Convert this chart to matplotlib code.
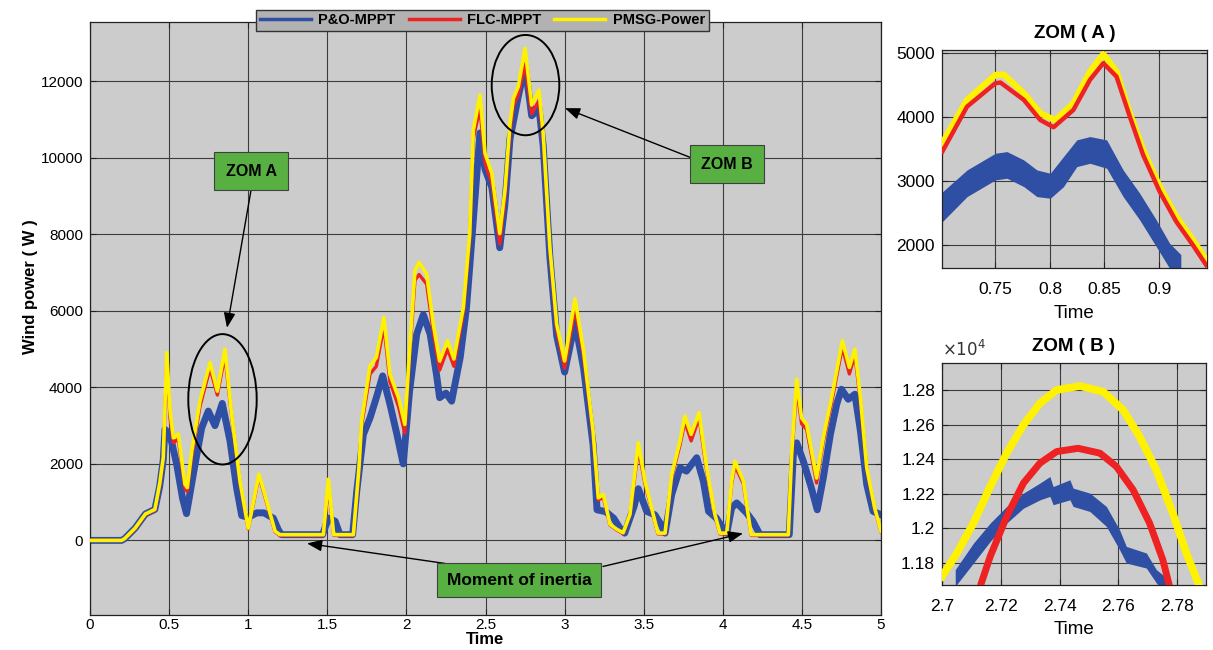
import numpy as np
import matplotlib
matplotlib.use('Agg')
import matplotlib.pyplot as plt
from matplotlib.patches import Ellipse
from matplotlib.ticker import FuncFormatter, FixedLocator

plt.rcParams['font.family'] = ['Liberation Sans', 'DejaVu Sans']

# ---------------- main chart data ----------------
t_ref = [0.00, 0.20, 0.22, 0.285, 0.35, 0.41, 0.44, 0.463, 0.485, 0.506, 0.527, 0.558, 0.60, 0.615,
         0.643, 0.695, 0.759, 0.805, 0.853, 0.895, 0.948, 1.00, 1.03, 1.068, 1.117, 1.17, 1.20,
         1.475, 1.507, 1.54, 1.665, 1.70, 1.717, 1.77, 1.81, 1.858, 1.896, 1.95, 1.99, 2.02, 2.054,
         2.08, 2.128, 2.17, 2.21, 2.26, 2.30, 2.36, 2.40, 2.423, 2.465, 2.497, 2.54, 2.59, 2.623,
         2.655, 2.676, 2.707, 2.75, 2.792, 2.838, 2.865, 2.907, 2.95, 3.0, 3.066, 3.12, 3.18, 3.213,
         3.245, 3.287, 3.33, 3.37, 3.413, 3.466, 3.508, 3.56, 3.59, 3.635, 3.677, 3.73, 3.76, 3.80,
         3.85, 3.898, 3.95, 3.982, 4.025, 4.056, 4.077, 4.13, 4.16, 4.18, 4.414, 4.435, 4.467, 4.498,
         4.53, 4.593, 4.635, 4.688, 4.72, 4.756, 4.80, 4.835, 4.87, 4.91, 4.96, 5.0]

pmsg_power = [0, 0, 50, 320, 690, 810, 1470, 2160, 4910, 3380, 2680, 2780, 1470, 1380,
              2330, 3640, 4650, 3900, 5000, 3300, 1550, 320, 940, 1730, 1020, 240, 150,
              150, 1600, 150, 150, 1900, 3120, 4560, 4780, 5830, 4340, 3730, 3030, 4950, 7050,
              7270, 6960, 5650, 4690, 5220, 4740, 6090, 8000, 10720, 11640, 10120, 9590, 8020, 9150,
              10900, 11550, 11860, 12860, 11380, 11770, 10630, 7660, 5650, 4690, 6310, 4950, 2860, 1110,
              1200, 420, 290, 200, 680, 2550, 1550, 680, 190, 190, 1720, 2600, 3250, 2770,
              3340, 1900, 680, 190, 190, 1550, 2070, 1550, 680, 150, 150, 2250, 4210, 3200,
              3030, 1630, 2680, 3730, 4430, 5220, 4520, 5000, 3730, 1900, 850, 240]

flc_mppt = [0, 0, 50, 300, 670, 790, 1420, 2100, 4700, 3200, 2550, 2650, 1350, 1280,
            2200, 3500, 4500, 3800, 4830, 3250, 1500, 300, 900, 1680, 980, 220, 130,
            130, 1450, 130, 130, 1800, 3000, 4350, 4550, 5600, 4150, 3500, 2800, 4800, 6800,
            6950, 6700, 5450, 4450, 5000, 4550, 5950, 7850, 10500, 11300, 9850, 9350, 7750, 8950,
            10700, 11350, 11650, 12450, 11150, 11500, 10450, 7550, 5500, 4500, 6050, 4800, 2750, 1050,
            1130, 400, 270, 180, 650, 2400, 1480, 650, 170, 170, 1650, 2500, 3100, 2600,
            3200, 1820, 650, 170, 170, 1480, 1950, 1480, 650, 130, 130, 2150, 4000, 3050,
            2900, 1500, 2580, 3600, 4300, 5050, 4350, 4850, 3620, 1850, 820, 230]

t_po = [0.00, 0.20, 0.22, 0.285, 0.35, 0.41, 0.44, 0.463, 0.474, 0.506, 0.548, 0.585, 0.61, 0.664,
        0.706, 0.748, 0.79, 0.836, 0.885, 0.927, 0.959, 1.0, 1.054, 1.10, 1.159, 1.19, 1.21,
        1.47, 1.507, 1.55, 1.58, 1.66, 1.686, 1.728, 1.77, 1.81, 1.85, 1.896, 1.94, 1.98, 2.02,
        2.065, 2.107, 2.15, 2.19, 2.21, 2.25, 2.286, 2.34, 2.38, 2.40, 2.465, 2.497, 2.54, 2.59,
        2.623, 2.655, 2.707, 2.75, 2.792, 2.838, 2.865, 2.907, 2.95, 3.0, 3.066, 3.12, 3.18, 3.205,
        3.26, 3.31, 3.35, 3.38, 3.44, 3.466, 3.519, 3.57, 3.61, 3.635, 3.677, 3.73, 3.77, 3.835,
        3.877, 3.91, 3.96, 4.0, 4.025, 4.056, 4.088, 4.15, 4.19, 4.235, 4.42, 4.446, 4.467, 4.509,
        4.56, 4.597, 4.635, 4.68, 4.72, 4.75, 4.793, 4.835, 4.87, 4.91, 4.95, 5.0]

po_mppt = [0, 0, 50, 320, 690, 810, 1400, 2100, 2900, 2750, 1990, 1100, 700, 1990,
           2940, 3380, 3000, 3580, 2600, 1370, 650, 600, 720, 720, 580, 280, 150,
           150, 580, 500, 150, 150, 1280, 2770, 3200, 3730, 4300, 3560, 2770, 2000, 3900,
           5390, 5900, 5390, 4340, 3730, 3850, 3640, 4780, 6090, 7140, 10650, 9700, 9230, 7650,
           8800, 10500, 11600, 12400, 11100, 11300, 10300, 7400, 5350, 4400, 5700, 4500, 2500, 800,
           750, 580, 320, 190, 900, 1350, 760, 670, 410, 190, 1200, 1900, 1810, 2160,
           1550, 760, 580, 320, 190, 850, 980, 720, 500, 150, 150, 2250, 2550, 2070,
           1370, 800, 1630, 2770, 3560, 3950, 3690, 3820, 2860, 1460, 760, 670]

series_names = ['P&O-MPPT', 'FLC-MPPT', 'PMSG-Power']
main_xticks = [0, 0.5, 1, 1.5, 2, 2.5, 3, 3.5, 4, 4.5, 5]
main_yticks = [0, 2000, 4000, 6000, 8000, 10000, 12000]

# ---------------- zoom A data ----------------
tA_ref = [0.7013, 0.724, 0.75, 0.7576, 0.776, 0.791, 0.8048, 0.8215, 0.8367, 0.8489, 0.861,
          0.8732, 0.8854, 0.9006, 0.9158, 0.931, 0.9432]
zA_pmsg = [3592, 4270, 4660, 4665, 4374, 4061, 3950, 4218, 4713, 4985, 4713,
           4061, 3487, 2913, 2444, 2079, 1766]
tA_flc = [0.7013, 0.724, 0.75, 0.7546, 0.776, 0.791, 0.8033, 0.8215, 0.8367, 0.8489, 0.861,
          0.8732, 0.8854, 0.9006, 0.9158, 0.931, 0.9432]
zA_flc = [3461, 4165, 4530, 4541, 4270, 3957, 3842, 4113, 4583, 4843, 4635,
          4009, 3409, 2835, 2366, 2000, 1687]
tA_po = [0.7013, 0.724, 0.75, 0.7606, 0.776, 0.788, 0.8003, 0.8124, 0.8246, 0.8367, 0.852,
         0.8671, 0.8823, 0.8975, 0.9097, 0.92]
zA_po_low = [2365, 2757, 3018, 3044, 2913, 2757, 2731, 2913, 3226, 3278, 3200,
             2757, 2392, 1974, 1635, 1450]
zA_po_high = [2830, 3174, 3435, 3461, 3330, 3174, 3122, 3383, 3644, 3696, 3644,
              3174, 2809, 2392, 2027, 1850]

# ---------------- zoom B data ----------------
tB_pmsg = [2.7, 2.7051, 2.7107, 2.7164, 2.722, 2.7277, 2.7333, 2.739, 2.7469, 2.7548, 2.7616,
           2.7672, 2.7729, 2.7785, 2.7831, 2.7876, 2.79]
zB_pmsg = [11723, 11858, 12031, 12242, 12435, 12598, 12723, 12800, 12823, 12790, 12685,
           12531, 12338, 12088, 11858, 11665, 11600]
tB_flc = [2.713, 2.7164, 2.722, 2.7277, 2.7333, 2.739, 2.7463, 2.7537, 2.7593, 2.765, 2.7706,
          2.7751, 2.7774]
zB_flc = [11665, 11838, 12069, 12262, 12377, 12444, 12463, 12435, 12358, 12223, 12031,
          11819, 11665]
tB_po = [2.7045, 2.7107, 2.7164, 2.722, 2.7277, 2.7333, 2.7367, 2.7378, 2.7435, 2.7446, 2.7503,
         2.7559, 2.7604, 2.7627, 2.7695, 2.7729, 2.7774]
zB_po_low = [11665, 11800, 11925, 12031, 12117, 12165, 12185, 12137, 12165, 12127, 12098,
             12012, 11877, 11800, 11771, 11685, 11600]
zB_po_high = [11762, 11915, 12031, 12127, 12204, 12262, 12300, 12242, 12281, 12233, 12204,
              12127, 11992, 11896, 11858, 11762, 11700]

# ---------------- styling ----------------
C_BLUE = '#2e4fa3'
C_RED = '#ee2222'
C_YEL = '#fff200'
C_BG = '#cccccc'
C_GRID = '#3c3c3c'
W, H = 1213, 650


def style_axes(a, fs, pad):
    a.set_facecolor(C_BG)
    a.grid(True, color=C_GRID, lw=0.8)
    a.set_axisbelow(True)
    a.tick_params(direction='in', top=True, right=True, labelsize=fs, length=4,
                  color='#222222')
    a.tick_params(axis='x', pad=pad)
    a.tick_params(axis='y', pad=5)
    for s in a.spines.values():
        s.set_color('#222222')
        s.set_linewidth(0.9)


fig = plt.figure(figsize=(W / 100, H / 100), dpi=100)

# main axes
ax = fig.add_axes([90 / W, 1 - 615 / H, 791 / W, 593 / H])
style_axes(ax, 11, 2)
l1, = ax.plot(t_po, po_mppt, color=C_BLUE, lw=5.0, solid_joinstyle='round', zorder=2)
l2, = ax.plot(t_ref, flc_mppt, color=C_RED, lw=2.4, zorder=3)
l3, = ax.plot(t_ref, pmsg_power, color=C_YEL, lw=2.6, zorder=4)
ax.set_xlim(0, 5)
ax.set_ylim(-1950, 13550)
ax.xaxis.set_major_locator(FixedLocator(main_xticks))
ax.yaxis.set_major_locator(FixedLocator(main_yticks))
ax.xaxis.set_major_formatter(FuncFormatter(lambda v, p: f'{v:g}'))
ax.yaxis.set_major_formatter(FuncFormatter(lambda v, p: f'{v:.0f}'))
ax.set_xlabel('Time', fontsize=12, fontweight='bold', labelpad=0)
ax.set_ylabel('Wind power ( W )', fontsize=12, fontweight='bold')
ax.yaxis.set_label_coords((38 - 90) / 791, (615 - 287) / 593)

leg = fig.legend([l1, l2, l3], series_names, loc='center', ncol=3,
                 bbox_to_anchor=(482.5 / W, 1 - 20.5 / H), frameon=True,
                 prop={'weight': 'bold', 'size': 10.5}, handlelength=3.5,
                 columnspacing=0.9, handletextpad=0.5, borderpad=0.25, fancybox=False,
                 borderaxespad=0)
leg.get_frame().set_facecolor('#b2b2b2')
leg.get_frame().set_edgecolor('#333333')
leg.get_frame().set_alpha(1)
for ln in leg.get_lines():
    ln.set_linewidth(2.5)


def px2d(px, py):
    return ((px - 90) / 158.2, (539 - py) / 0.03815)


# ellipses
cA = px2d(222.5, 398.3)
ax.add_patch(Ellipse(cA, 68.4 / 158.2, 130 / 0.03815, fill=False, ec='black', lw=1.4, zorder=6))
cB = px2d(525.5, 85)
ax.add_patch(Ellipse(cB, 67.6 / 158.2, 100 / 0.03815, fill=False, ec='black', lw=1.4, zorder=6))

box_kw = dict(boxstyle='square,pad=0.72', fc='#58b043', ec='#404040', lw=0.8)
ax.text(*px2d(251, 171), 'ZOM A', ha='center', va='center', fontsize=11.5,
        fontweight='bold', bbox=box_kw, zorder=7)
ax.text(*px2d(727, 164), 'ZOM B', ha='center', va='center', fontsize=11.5,
        fontweight='bold', bbox=box_kw, zorder=7)
ax.text(*px2d(519, 578.5), 'Moment of inertia', ha='center', va='center', fontsize=12.5,
        fontweight='bold', bbox=dict(boxstyle='square,pad=0.55', fc='#58b043', ec='#404040', lw=0.8),
        zorder=7)

arrow_kw = dict(arrowstyle='-|>,head_length=0.9,head_width=0.35', color='black', lw=1.0,
                shrinkA=0, shrinkB=0)
ax.annotate('', xy=px2d(227, 327), xytext=px2d(251, 190), arrowprops=arrow_kw, zorder=6)
ax.annotate('', xy=px2d(565, 108), xytext=px2d(690, 157), arrowprops=arrow_kw, zorder=6)
ax.annotate('', xy=px2d(307, 542), xytext=px2d(445, 562), arrowprops=arrow_kw, zorder=6)
ax.annotate('', xy=px2d(743, 532), xytext=px2d(603, 565), arrowprops=arrow_kw, zorder=6)

# zoom A
axA = fig.add_axes([942 / W, 1 - 268 / H, 265 / W, 218 / H])
style_axes(axA, 12.5, 10)
axA.fill_between(tA_po, zA_po_low, zA_po_high, color=C_BLUE, lw=0, zorder=2)
axA.plot(tA_ref, zA_pmsg, color=C_YEL, lw=4.5, zorder=3)
axA.plot(tA_flc, zA_flc, color=C_RED, lw=3.2, zorder=4)
axA.set_xlim(0.701, 0.944)
axA.set_ylim(1640, 5050)
axA.xaxis.set_major_locator(FixedLocator([0.75, 0.8, 0.85, 0.9]))
axA.yaxis.set_major_locator(FixedLocator([2000, 3000, 4000, 5000]))
axA.xaxis.set_major_formatter(FuncFormatter(lambda v, p: f'{v:g}'))
axA.yaxis.set_major_formatter(FuncFormatter(lambda v, p: f'{v:.0f}'))
axA.set_xlabel('Time', fontsize=13.5, labelpad=6)
axA.set_title('ZOM ( A )', fontsize=13.5, fontweight='bold', pad=9)

# zoom B
axB = fig.add_axes([942 / W, 1 - 585 / H, 264 / W, 222 / H])
style_axes(axB, 12.5, 10)
axB.fill_between(tB_po, zB_po_low, zB_po_high, color=C_BLUE, lw=0, zorder=2)
axB.plot(tB_pmsg, zB_pmsg, color=C_YEL, lw=5.5, zorder=3)
axB.plot(tB_flc, zB_flc, color=C_RED, lw=5.0, zorder=4)
axB.set_xlim(2.7, 2.7898)
axB.set_ylim(11673, 12956)
axB.xaxis.set_major_locator(FixedLocator([2.7, 2.72, 2.74, 2.76, 2.78]))
axB.yaxis.set_major_locator(FixedLocator([11800, 12000, 12200, 12400, 12600, 12800]))
axB.xaxis.set_major_formatter(FuncFormatter(lambda v, p: f'{v:g}'))
axB.yaxis.set_major_formatter(FuncFormatter(lambda v, p: f'{v / 1e4:g}'))
axB.set_xlabel('Time', fontsize=13.5, labelpad=5)
axB.set_title('ZOM ( B )', fontsize=13.5, fontweight='bold', pad=9)
axB.text(0.0, 1.02, r'$\times10^4$', transform=axB.transAxes, fontsize=12,
         ha='left', va='bottom', color='#333333')

fig.savefig('out.png', dpi=100, facecolor='white')
